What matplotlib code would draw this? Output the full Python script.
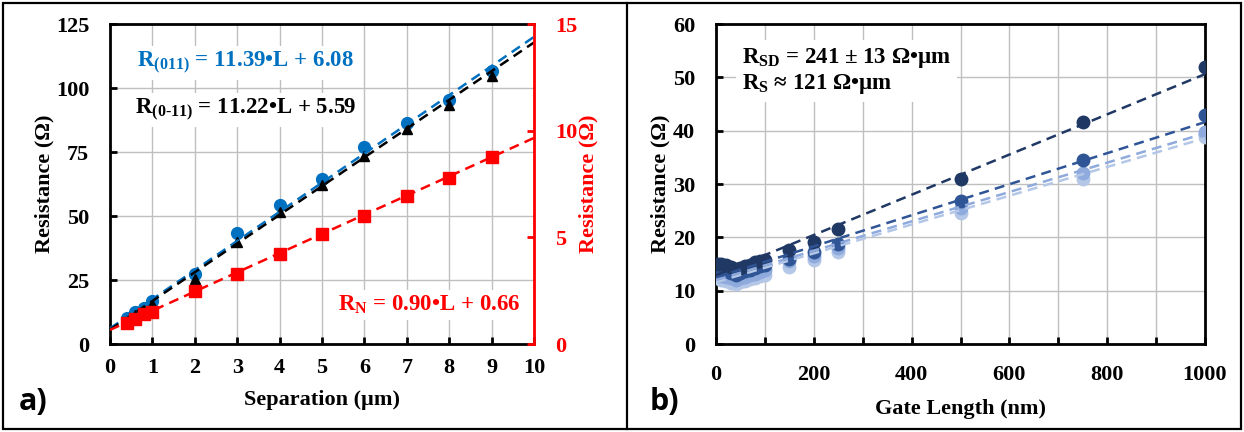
import matplotlib
matplotlib.use("Agg")
import matplotlib.pyplot as plt
from matplotlib.ticker import MultipleLocator, FuncFormatter
from matplotlib.lines import Line2D
import numpy as np

# ---------------- data: panel a (TLM, two orientations + nitride) ----------------
sep_um = [0.4, 0.6, 0.8, 1, 2, 3, 4, 5, 6, 7, 8, 9]
r_011 = [10.1, 12.6, 14.2, 16.9, 27.3, 43.5, 54.3, 64.5, 77.0, 86.3, 95.3, 106.6]
r_0m11 = [9.5, 11.5, 13.0, 15.5, 25.5, 40.0, 51.5, 62.0, 73.5, 84.0, 93.5, 104.5]
r_n = [1.0, 1.15, 1.4, 1.5, 2.5, 3.28, 4.22, 5.16, 6.0, 6.94, 7.8, 8.77]
fit_011 = (11.39, 6.08)
fit_0m11 = (11.22, 5.59)
fit_n = (0.90, 0.66)

# ---------------- data: panel b (resistance vs gate length) ----------------
gate_nm = [5, 10, 20, 30, 40, 50, 60, 70, 80, 90, 100, 150, 200, 250, 500, 750, 1000]
r_dev1 = [15.0, 15.0, 14.8, 14.5, 14.0, 14.3, 14.6, 14.9, 15.3, 15.6, 15.7,
          17.6, 19.1, 21.5, 30.9, 41.7, 52.0]
r_dev2 = [14.0, 13.9, 13.6, 13.3, 13.0, 13.3, 13.6, 13.9, 14.3, 14.6, 14.8,
          16.0, 17.2, 18.8, 26.8, 34.5, 42.9]
r_dev3 = [13.0, 12.8, 12.5, 12.3, 12.0, 12.3, 12.6, 12.9, 13.2, 13.5, 13.8,
          15.5, 16.5, 18.0, 25.5, 32.0, 39.8]
r_dev4 = [12.3, 12.0, 11.8, 11.5, 11.3, 11.6, 11.8, 12.1, 12.4, 12.7, 13.0,
          14.5, 15.8, 17.2, 24.5, 31.0, 38.9]
fits_b = [(0.0377, 12.9), (0.0291, 12.5), (0.0275, 12.0), (0.0270, 11.6)]

BLUE = "#0070C0"
RED = "#FF0000"
GRID = "#BFBFBF"
b_colors = ["#203864", "#2F5597", "#8FAADC", "#B4C7E7"]

plt.rcParams["font.family"] = ["Liberation Serif", "DejaVu Serif"]
plt.rcParams["font.weight"] = "bold"
plt.rcParams["mathtext.fontset"] = "custom"
plt.rcParams["mathtext.rm"] = "Liberation Serif:bold"
plt.rcParams["mathtext.bf"] = "Liberation Serif:bold"
plt.rcParams["mathtext.it"] = "Liberation Serif:bold"
plt.rcParams["mathtext.default"] = "bf"

W, H = 1244, 432
fig = plt.figure(figsize=(W / 100, H / 100), dpi=100)

# frame around both panels
fig.add_artist(plt.Rectangle((3 / W, 3 / H), 1 - 6 / W, 1 - 6 / H, transform=fig.transFigure,
                             fill=False, lw=1.6, ec="black"))
fig.add_artist(Line2D([627 / W, 627 / W], [3 / H, 1 - 3 / H], transform=fig.transFigure,
                      lw=1.6, color="black"))

TICK_FS = 16
LABEL_FS = 16
EQ_FS = 16.5
DASH = (0, (4, 2.5))


def style_axes(ax):
    for s in ax.spines.values():
        s.set_linewidth(2)
    ax.tick_params(direction="in", length=5, width=2, labelsize=TICK_FS)
    ax.grid(True, color=GRID, lw=1)
    ax.set_axisbelow(True)
    for lab in ax.get_xticklabels() + ax.get_yticklabels():
        lab.set_fontweight("bold")


# ---------------- panel a ----------------
ax = fig.add_axes([110 / W, (H - 344) / H, 424 / W, 320 / H])
style_axes(ax)
ax.set_xlim(0, 10)
ax.set_ylim(0, 125)
ax.xaxis.set_major_locator(MultipleLocator(1))
ax.yaxis.set_major_locator(MultipleLocator(25))
ax.tick_params(axis="x", pad=10)
ax.tick_params(axis="y", pad=15)
ax.spines["right"].set_visible(False)

xl = np.array([0, 10])
ax.plot(sep_um, r_011, "o", color=BLUE, ms=8.5, zorder=3)
ax.plot(sep_um, r_0m11, "^", color="black", ms=7, zorder=3)
ax.plot(xl, fit_011[0] * xl + fit_011[1], ls=DASH, color=BLUE, lw=1.8, zorder=4)
ax.plot(xl, fit_0m11[0] * xl + fit_0m11[1], ls=DASH, color="black", lw=1.8, zorder=4)
ax.set_xlabel("Separation (µm)", fontsize=LABEL_FS, fontweight="bold", labelpad=9)
ax.set_ylabel("Resistance (Ω)", fontsize=LABEL_FS, fontweight="bold", labelpad=1)

ax.text(0.064, 0.878, r"R$_{(011)}$ = %.2f•L + %.2f" % fit_011, transform=ax.transAxes,
        color=BLUE, fontsize=EQ_FS, fontweight="bold", va="center", ha="left",
        bbox=dict(fc="white", ec="none", pad=3), zorder=5)
ax.text(0.059, 0.731, r"R$_{(0\text{-}11)}$ = %.2f•L + %.2f" % fit_0m11, transform=ax.transAxes,
        color="black", fontsize=EQ_FS, fontweight="bold", va="center", ha="left",
        bbox=dict(fc="white", ec="none", pad=3), zorder=5)

ax2 = ax.twinx()
ax2.set_ylim(0, 15)
ax2.yaxis.set_major_locator(MultipleLocator(5))
for side in ("left", "top", "bottom"):
    ax2.spines[side].set_visible(False)
ax2.spines["right"].set_color(RED)
ax2.spines["right"].set_linewidth(2)
ax2.tick_params(axis="y", direction="in", length=5, width=2, colors=RED,
                labelsize=TICK_FS, pad=15)
for lab in ax2.get_yticklabels():
    lab.set_fontweight("bold")
ax2.plot(sep_um, r_n, "s", color=RED, ms=8, zorder=3)
ax2.plot(xl, fit_n[0] * xl + fit_n[1], ls=DASH, color=RED, lw=1.8, zorder=4)
ax2.set_ylabel("Resistance (Ω)", fontsize=LABEL_FS, fontweight="bold", color=RED, labelpad=1)
ax2.text(0.969, 0.122, r"R$_{\mathrm{N}}$ = %.2f•L + %.2f" % fit_n, transform=ax2.transAxes,
         color=RED, fontsize=EQ_FS, fontweight="bold", va="center", ha="right",
         bbox=dict(fc="white", ec="none", pad=3), zorder=5)

fig.text(33 / W, 1 - 402 / H, "a)", fontsize=22, fontweight="bold",
         family=["Open Sans", "DejaVu Sans"], ha="center", va="center")

# ---------------- panel b ----------------
bx = fig.add_axes([716 / W, (H - 344) / H, 489 / W, 320 / H])
style_axes(bx)
bx.set_xlim(0, 1000)
bx.set_ylim(0, 60)
bx.xaxis.set_major_locator(MultipleLocator(100))
bx.xaxis.set_major_formatter(FuncFormatter(lambda v, p: f"{v:.0f}" if round(v) % 200 == 0 else ""))
bx.yaxis.set_major_locator(MultipleLocator(10))
bx.tick_params(axis="x", pad=15)
bx.tick_params(axis="y", pad=15)

gl = np.array([0, 1000])
series_b = [r_dev1, r_dev2, r_dev3, r_dev4]
for ys, c, (m, b0) in reversed(list(zip(series_b, b_colors, fits_b))):
    bx.plot(gate_nm, ys, "o", color=c, ms=9, zorder=3)
for ys, c, (m, b0) in reversed(list(zip(series_b, b_colors, fits_b))):
    bx.plot(gl, m * gl + b0, ls=DASH, color=c, lw=1.8, zorder=4)

bx.set_xlabel("Gate Length (nm)", fontsize=LABEL_FS, fontweight="bold", labelpad=10)
bx.set_ylabel("Resistance (Ω)", fontsize=LABEL_FS, fontweight="bold", labelpad=2)
bx.text(0.053, 0.853, "R$_{\\mathrm{SD}}$ = 241 ± 13 Ω•µm\nR$_{\\mathrm{S}}$ ≈ 121 Ω•µm",
        transform=bx.transAxes, fontsize=EQ_FS, fontweight="bold", va="center", ha="left",
        linespacing=1.15, bbox=dict(fc="white", ec="none", pad=4), zorder=5)

fig.text(664 / W, 1 - 402 / H, "b)", fontsize=22, fontweight="bold",
         family=["Open Sans", "DejaVu Sans"], ha="center", va="center")

fig.savefig("out.png", dpi=100)
